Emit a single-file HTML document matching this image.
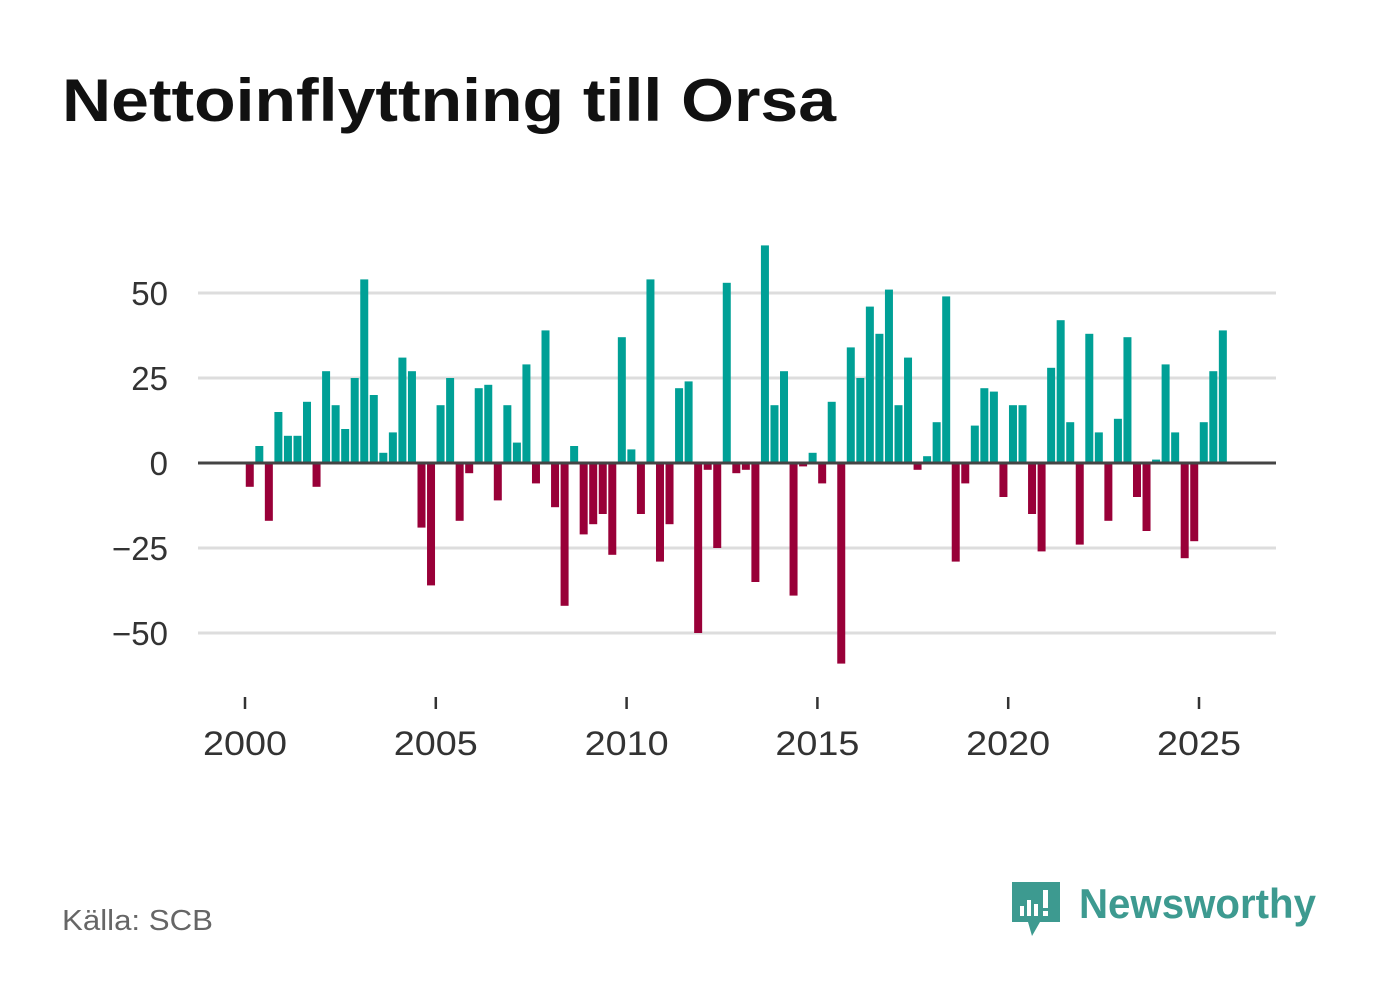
<!DOCTYPE html>
<html><head><meta charset="utf-8"><style>
body{margin:0;width:1382px;height:999px;background:#fff;font-family:"Liberation Sans",sans-serif;overflow:hidden}
</style></head><body>
<svg width="1382" height="999">
<text x="62" y="121" font-size="60" font-weight="bold" fill="#111" textLength="774" lengthAdjust="spacingAndGlyphs">Nettoinflyttning till Orsa</text>
<g id="grid"></g><g id="bars"></g><g id="axes"></g>
<text x="62" y="930" font-size="29" fill="#666" textLength="151" lengthAdjust="spacingAndGlyphs">Källa: SCB</text>
<g>
<path d="M1012 882 h48 v40 h-20 l-8 14 l-4 -14 h-16 z" fill="#3d9a90"/>
<rect x="1020" y="906" width="4" height="10" fill="#fff"/><rect x="1027" y="900" width="4" height="16" fill="#fff"/><rect x="1034" y="904" width="4" height="12" fill="#fff"/><rect x="1043" y="890" width="5" height="18" fill="#fff"/><rect x="1043" y="911" width="5" height="5" fill="#fff"/>
<text x="1079" y="918" font-size="42" font-weight="bold" fill="#3d9a90" textLength="237" lengthAdjust="spacingAndGlyphs">Newsworthy</text>
</g>
</svg>
<script>
const years=[2000,2005,2010,2015,2020,2025];
const yTicks=[50,25,0,-25,-50];
const yLabels=["50","25","0","−25","−50"];
const values=[-7,5,-17,15,8,8,18,-7,27,17,10,25,54,20,3,9,31,27,-19,-36,17,25,-17,-3,22,23,-11,17,6,29,-6,39,-13,-42,5,-21,-18,-15,-27,37,4,-15,54,-29,-18,22,24,-50,-2,-25,53,-3,-2,-35,64,17,27,-39,-1,3,-6,18,-59,34,25,46,38,51,17,31,-2,2,12,49,-29,-6,11,22,21,-10,17,17,-15,-26,28,42,12,-24,38,9,-17,13,37,-10,-20,1,29,9,-28,-23,12,27,39];
const NS="http://www.w3.org/2000/svg";
const yS=v=>463-v*3.4;
const xS=t=>245+(t-2000)*38.16;
function mk(tag,a,p){const e=document.createElementNS(NS,tag);for(const k in a)e.setAttribute(k,a[k]);p.appendChild(e);return e;}
const grid=document.getElementById('grid'),bars=document.getElementById('bars'),axes=document.getElementById('axes');
yTicks.forEach((v,i)=>{
 const l=mk('line',{x1:198,x2:1276,y1:yS(v),y2:yS(v),stroke:'#ddd','stroke-width':3},grid);
 
 
 const t=mk('text',{x:168,y:yS(v)+12,'text-anchor':'end','font-size':33,fill:'#333'},axes);
 t.textContent=yLabels[i];
 
 
});
values.forEach((v,i)=>{
 const cx=xS(2000+(i+0.5)/4);
 const r=mk('rect',{x:cx-4,y:Math.min(yS(v),yS(0)),width:8,height:Math.abs(yS(v)-yS(0)),fill:v>=0?'#00a096':'#990038'},bars);
 
 
});
const z=mk('line',{x1:198,x2:1276,y1:463,y2:463,stroke:'#444','stroke-width':3},axes);


years.forEach(y=>{
 const tk=mk('line',{x1:xS(y),x2:xS(y),y1:697,y2:709,stroke:'#333','stroke-width':2.5},axes);
 
 
 const t=mk('text',{x:xS(y),y:755,'text-anchor':'middle','font-size':34,fill:'#333',textLength:84,lengthAdjust:'spacingAndGlyphs'},axes);
 t.textContent=y;
 
 
});
</script>
</body></html>
